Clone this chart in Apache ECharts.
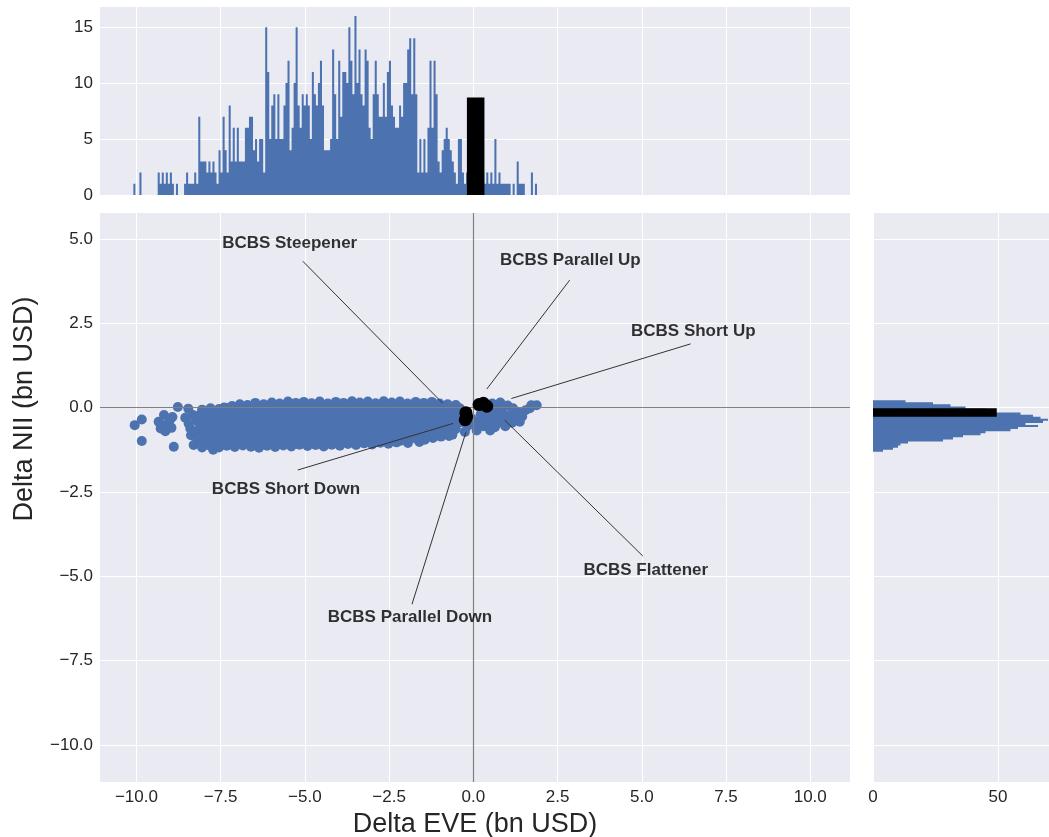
<!DOCTYPE html>
<html><head><meta charset="utf-8">
<script src="https://cdn.jsdelivr.net/npm/echarts@6/dist/echarts.min.js"></script>
<style>html,body{margin:0;padding:0;background:#fff}#c{width:1049px;height:837px}</style>
</head><body><div id="c"></div>
<script>
// ---------- data ----------
const xTicks = [-10, -7.5, -5, -2.5, 0, 2.5, 5, 7.5, 10];
const yTicks = [-10, -7.5, -5, -2.5, 0, 2.5, 5];
const topHistTicks = [0, 5, 10, 15];
const rightHistTicks = [0, 50];

const X_MIN = -11.08, X_MAX = 11.18;
const Y_MIN = -11.10, Y_MAX = 5.77;
const TOP_MAX = 16.8, RIGHT_MAX = 70.4;

// top histogram of Delta EVE (portfolio simulations)
const topHistStart = -10.09, topHistWidth = 0.0602;
const topHistCounts = [
  1,0,0,2,0,0,0,0,0,0,0,0,
  2,1,2,1,2,1,2,1,0,1,0,0,
  0,1,2,1,1,1,2,1,
  7,3,3,3,2,3,2,3,2,1,4,2,7,4,2,8,3,6,3,6,3,3,3,6,6,7,
  7,4,5,3,5,5,2,15,11,5, 8,9,5,9,5,5,8,10,12,4, 6,10,15,8,6,9,8,9,8,5,
  11,9,8,10,12,8,4,4,4,5, 13,9,5,12,7,11,11,10,15,12, 9,16,10,13,9,8,13,12,6,
  5,9,12,9,7,7,10,7,11,12, 8,7,6,6,8,7,10,10,13,14, 9,14,9,2,5,2,5,2,6,12,
  6,12,9,3,2,4,5,6,5,4, 3,2,1,5,5,2,1,
  2,1,2,1,3,1,2,1,2,
  1,2,1,2,1,5,1,2,1,1,1,1,1,0,1,0,3,1,1,1,0,0,0,2,0,1,0
];
// right histogram of Delta NII (bins from bottom to top)
const rightHistStart = -1.31, rightHistWidth = 0.0612;
const rightHistCounts = [4,8,10,11,14,28,32,36,43,45,55,58,66,61,68,70,67,64,59,48,45,37,31,24,13];

// BCBS scenario histograms: [from, to, count]
const bcbsTopBar = [-0.19, 0.33, 8.72];
const bcbsRightBar = [-0.27, -0.02, 49.5];

// simulated portfolio points [Delta EVE, Delta NII]
const portfolioPoints = [
  [-10.05,-0.52],[-9.84,-0.35],[-9.84,-0.99],[-9.34,-0.42],[-9.28,-0.62],[-9.22,-0.52],[-9.18,-0.22],[-9.14,-0.70],
  [-9.06,-0.47],[-9.00,-0.36],[-8.96,-0.60],[-8.93,-0.28],[-8.89,-1.16],[-8.77,0.02],[-8.55,-0.30],[-8.46,-0.03],
  [-8.45,-0.47],[-8.40,-0.62],[-8.38,-0.82],[-8.32,-0.22],[-8.30,-1.11],[-8.24,-0.72],[-8.20,-0.40],[-8.18,-0.95],
  [-8.05,-1.18],[-7.72,-1.25],
  [-7.40,0.00],[-7.16,0.05],[-6.93,0.10],[-6.70,0.08],[-6.47,0.14],[-6.22,0.10],[-5.98,0.15],[-5.75,0.12],[-5.50,0.18],
  [-5.27,0.14],[-5.03,0.17],[-4.80,0.13],[-4.56,0.18],[-4.32,0.12],[-4.08,0.17],[-3.85,0.14],[-3.60,0.19],[-3.37,0.15],
  [-3.13,0.18],[-2.90,0.13],[-2.66,0.19],[-2.42,0.15],[-2.18,0.18],[-1.95,0.12],[-1.71,0.17],[-1.47,0.14],[-1.23,0.17],
  [-1.00,0.12],[-0.76,0.10],[-0.52,0.08],
  [-8.05,-0.06],[-7.80,-0.02],[-7.55,-0.04],[-7.30,-0.01],[-7.05,-0.05],[-6.82,-0.02],[-6.58,-0.04],[-6.34,0.00],
  [-6.10,-0.03],[-5.86,-0.05],[-5.62,-0.01],[-5.38,-0.04],[-5.15,-0.02],[-4.91,-0.05],[-4.68,-0.01],[-4.44,-0.03],
  [-4.20,-0.05],[-3.96,-0.02],[-3.72,-0.04],[-3.49,0.00],[-3.25,-0.03],[-3.01,-0.05],[-2.78,-0.02],[-2.54,-0.04],
  [-2.30,-0.01],[-2.06,-0.03],[-1.83,-0.05],[-1.59,-0.02],[-1.35,-0.04],[-1.11,-0.01],[-0.88,-0.03],[-0.64,-0.05],[-0.40,-0.02],
  [-8.15,-0.24],[-7.92,-0.20],[-7.68,-0.23],[-7.43,-0.21],[-7.18,-0.25],[-6.94,-0.21],[-6.70,-0.23],[-6.46,-0.20],
  [-6.22,-0.24],[-5.98,-0.22],[-5.74,-0.20],[-5.50,-0.24],[-5.27,-0.21],[-5.03,-0.23],[-4.79,-0.20],[-4.55,-0.24],
  [-4.32,-0.22],[-4.08,-0.20],[-3.84,-0.23],[-3.60,-0.21],[-3.36,-0.24],[-3.13,-0.20],[-2.89,-0.23],[-2.65,-0.21],
  [-2.41,-0.24],[-2.18,-0.22],[-1.94,-0.20],[-1.70,-0.23],[-1.46,-0.21],[-1.22,-0.24],[-0.99,-0.20],[-0.75,-0.23],
  [-0.51,-0.21],[-0.30,-0.25],
  [-8.05,-0.43],[-7.80,-0.40],[-7.56,-0.42],[-7.31,-0.39],[-7.06,-0.43],[-6.82,-0.40],[-6.58,-0.42],[-6.34,-0.39],
  [-6.10,-0.43],[-5.86,-0.41],[-5.62,-0.39],[-5.38,-0.42],[-5.15,-0.40],[-4.91,-0.43],[-4.67,-0.41],[-4.43,-0.39],
  [-4.20,-0.42],[-3.96,-0.40],[-3.72,-0.43],[-3.48,-0.41],[-3.24,-0.39],[-3.01,-0.42],[-2.77,-0.40],[-2.53,-0.43],
  [-2.29,-0.41],[-2.06,-0.39],[-1.82,-0.42],[-1.58,-0.40],[-1.34,-0.43],[-1.10,-0.41],[-0.87,-0.39],[-0.63,-0.42],[-0.40,-0.44],
  [-8.12,-0.62],[-7.90,-0.59],[-7.66,-0.61],[-7.42,-0.58],[-7.18,-0.62],[-6.94,-0.59],[-6.70,-0.61],[-6.46,-0.58],
  [-6.22,-0.62],[-5.98,-0.60],[-5.74,-0.58],[-5.50,-0.61],[-5.26,-0.59],[-5.03,-0.62],[-4.79,-0.60],[-4.55,-0.58],
  [-4.31,-0.61],[-4.07,-0.59],[-3.84,-0.62],[-3.60,-0.60],[-3.36,-0.58],[-3.12,-0.61],[-2.89,-0.59],[-2.65,-0.62],
  [-2.41,-0.60],[-2.17,-0.58],[-1.94,-0.61],[-1.70,-0.59],[-1.46,-0.62],[-1.22,-0.60],[-0.98,-0.58],[-0.75,-0.61],[-0.52,-0.63],
  [-8.02,-0.81],[-7.78,-0.78],[-7.54,-0.80],[-7.30,-0.77],[-7.06,-0.81],[-6.82,-0.78],[-6.58,-0.80],[-6.34,-0.77],
  [-6.10,-0.81],[-5.86,-0.79],[-5.62,-0.77],[-5.38,-0.80],[-5.14,-0.78],[-4.91,-0.81],[-4.67,-0.79],[-4.43,-0.77],
  [-4.19,-0.80],[-3.95,-0.78],[-3.72,-0.81],[-3.48,-0.79],[-3.24,-0.77],[-3.00,-0.80],[-2.77,-0.78],[-2.53,-0.81],
  [-2.29,-0.79],[-2.05,-0.77],[-1.82,-0.80],[-1.58,-0.78],[-1.34,-0.81],[-1.10,-0.79],[-0.86,-0.77],[-0.62,-0.80],
  [-7.92,-1.00],[-7.68,-0.97],[-7.44,-0.99],[-7.20,-0.96],[-6.96,-1.00],[-6.72,-0.97],[-6.48,-0.99],[-6.24,-0.96],
  [-6.00,-1.00],[-5.76,-0.98],[-5.52,-0.96],[-5.28,-0.99],[-5.04,-0.97],[-4.80,-1.00],[-4.56,-0.98],[-4.32,-0.96],
  [-4.08,-0.99],[-3.84,-0.97],[-3.60,-1.00],[-3.36,-0.98],[-3.12,-0.96],[-2.88,-0.99],[-2.64,-0.97],[-2.40,-0.95],
  [-2.16,-0.98],[-1.92,-0.96],[-1.68,-0.93],[-1.44,-0.95],[-1.20,-0.90],[-0.96,-0.86],[-0.72,-0.84],
  [-7.80,-1.14],[-7.55,-1.18],[-7.32,-1.13],[-7.08,-1.17],[-6.84,-1.12],[-6.60,-1.16],[-6.36,-1.19],[-6.12,-1.13],
  [-5.88,-1.17],[-5.64,-1.12],[-5.40,-1.15],[-5.16,-1.10],[-4.92,-1.14],[-4.68,-1.11],[-4.44,-1.15],[-4.20,-1.10],
  [-3.96,-1.13],[-3.72,-1.08],[-3.48,-1.11],[-3.24,-1.06],[-3.00,-1.09],[-2.76,-1.04],[-2.52,-1.07],[-2.28,-1.03],
  [-1.94,-1.05],[-1.60,-1.02],
  [-0.25,-0.72],[-0.18,-0.55],[-0.05,-0.32],[0.02,-0.50],[0.10,-0.68],[0.18,-0.40],[0.22,-0.20],[0.30,-0.55],
  [0.35,-0.30],[0.40,-0.12],[0.45,-0.45],[0.50,-0.68],[0.52,-0.25],[0.56,0.12],[0.60,-0.40],[0.62,-0.05],
  [0.64,-0.58],[0.65,0.08],[0.70,-0.25],[0.76,-0.45],[0.80,0.15],[0.85,-0.12],[0.90,-0.33],[0.95,-0.55],
  [1.02,0.06],[1.08,-0.22],[1.15,-0.45],[1.18,-0.02],[1.28,-0.30],[1.32,-0.14],[1.38,-0.42],[1.45,-0.26],
  [1.55,-0.08],[1.72,0.07],[1.68,-0.02],[1.88,0.07]
];

// BCBS standard shock scenarios
const bcbsPoints = [[-0.22,-0.15],[-0.20,-0.28],[-0.24,-0.36],[0.17,0.09],[0.30,0.13],[0.40,0.04]];

// annotations (data coordinates)
const annotationNames = ['BCBS Steepener','BCBS Parallel Up','BCBS Short Up','BCBS Short Down','BCBS Parallel Down','BCBS Flattener'];
const annotationText = [[-5.45,4.88],[2.88,4.37],[6.53,2.27],[-5.56,-2.42],[-1.88,-6.21],[5.12,-4.82]];
const annotationLineFrom = [[-5.06,4.34],[2.86,3.78],[6.45,1.89],[-5.21,-1.85],[-1.82,-5.83],[5.03,-4.40]];
const annotationLineTo = [[-0.91,0.13],[0.40,0.55],[1.13,0.27],[-0.60,-0.47],[-0.22,-0.73],[0.93,-0.37]];

// ---------- chart ----------
const FONT = "'Liberation Sans', Arial, sans-serif";
const TXT = '#262626';
const BLUE = '#4C72B0';
const BG = '#EAEAF2';
function fmt(v) { return (v < 0 ? '\u2212' : '') + Math.abs(v).toFixed(1); }

const chart = echarts.init(document.getElementById('c'), null, {renderer: 'canvas', width: 1049, height: 837});

function gridDef(left, top, width, height) {
  return {left, top, width, height, show: true, backgroundColor: BG, borderWidth: 0, containLabel: false, outerBoundsMode: 'none'};
}
function axisDef(gridIndex, min, max, ticks, showLabel, formatter, margin) {
  return {
    gridIndex, type: 'value', min, max,
    axisLine: {show: false}, axisTick: {show: false, customValues: ticks},
    axisLabel: {show: showLabel, customValues: ticks, formatter, fontSize: 17, color: TXT, fontFamily: FONT, margin},
    splitLine: {show: true, lineStyle: {color: '#ffffff', width: 1}}
  };
}

const xMain = axisDef(1, X_MIN, X_MAX, xTicks, true, fmt, 7);
xMain.name = 'Delta EVE (bn USD)';
xMain.nameLocation = 'middle';
xMain.nameGap = 26;
xMain.nameTextStyle = {fontSize: 27, color: TXT, fontFamily: FONT};

const option = {
  animation: false,
  backgroundColor: '#ffffff',
  grid: [gridDef(100, 7, 750, 188), gridDef(100, 213, 750, 569), gridDef(873, 213, 176, 569)],
  xAxis: [
    axisDef(0, X_MIN, X_MAX, xTicks, false, fmt, 7),
    xMain,
    axisDef(2, 0, RIGHT_MAX, rightHistTicks, true, v => String(v), 7)
  ],
  yAxis: [
    axisDef(0, 0, TOP_MAX, topHistTicks, true, v => String(v), 7),
    axisDef(1, Y_MIN, Y_MAX, yTicks, true, fmt, 7),
    axisDef(2, Y_MIN, Y_MAX, yTicks, false, fmt, 7)
  ],
  graphic: [{
    type: 'text', x: 25, y: 409, rotation: Math.PI / 2,
    style: {text: 'Delta NII (bn USD)', font: '27px ' + FONT, fill: TXT, align: 'center', verticalAlign: 'middle'}
  }],
  series: [
    {
      type: 'custom', xAxisIndex: 0, yAxisIndex: 0, data: [0], z: 2,
      renderItem: function (params, api) {
        const pts = [api.coord([topHistStart, 0])];
        for (let i = 0; i < topHistCounts.length; i++) {
          const a = topHistStart + i * topHistWidth;
          pts.push(api.coord([a, topHistCounts[i]]));
          pts.push(api.coord([a + topHistWidth, topHistCounts[i]]));
        }
        pts.push(api.coord([topHistStart + topHistCounts.length * topHistWidth, 0]));
        return {type: 'polygon', shape: {points: pts}, style: {fill: BLUE}};
      }
    },
    {
      type: 'custom', xAxisIndex: 0, yAxisIndex: 0, data: [0], z: 3,
      renderItem: function (params, api) {
        const p0 = api.coord([bcbsTopBar[0], bcbsTopBar[2]]);
        const p1 = api.coord([bcbsTopBar[1], 0]);
        return {type: 'rect', shape: {x: p0[0], y: p0[1], width: p1[0] - p0[0], height: p1[1] - p0[1]}, style: {fill: '#000000'}};
      }
    },
    {
      type: 'custom', xAxisIndex: 2, yAxisIndex: 2, data: [0], z: 2,
      renderItem: function (params, api) {
        const pts = [api.coord([0, rightHistStart])];
        for (let i = 0; i < rightHistCounts.length; i++) {
          const a = rightHistStart + i * rightHistWidth;
          pts.push(api.coord([rightHistCounts[i], a]));
          pts.push(api.coord([rightHistCounts[i], a + rightHistWidth]));
        }
        pts.push(api.coord([0, rightHistStart + rightHistCounts.length * rightHistWidth]));
        return {type: 'polygon', shape: {points: pts}, style: {fill: BLUE}};
      }
    },
    {
      type: 'custom', xAxisIndex: 2, yAxisIndex: 2, data: [0], z: 3,
      renderItem: function (params, api) {
        const p0 = api.coord([0, bcbsRightBar[1]]);
        const p1 = api.coord([bcbsRightBar[2], bcbsRightBar[0]]);
        return {type: 'rect', shape: {x: p0[0], y: p0[1], width: p1[0] - p0[0], height: p1[1] - p0[1]}, style: {fill: '#000000'}};
      }
    },
    {
      type: 'scatter', xAxisIndex: 1, yAxisIndex: 1, data: portfolioPoints, z: 2,
      symbol: 'circle', symbolSize: 10, itemStyle: {color: BLUE, opacity: 1, borderWidth: 0},
      markLine: {
        silent: true, symbol: ['none', 'none'], label: {show: false}, z: 4,
        lineStyle: {color: '#808080', width: 1.2, type: 'solid'},
        emphasis: {disabled: true},
        data: [{xAxis: 0}, {yAxis: 0}]
      }
    },
    {
      type: 'scatter', xAxisIndex: 1, yAxisIndex: 1, data: bcbsPoints, z: 6,
      symbol: 'circle', symbolSize: 13, itemStyle: {color: '#000000', opacity: 1, borderWidth: 0}
    },
    {
      type: 'lines', coordinateSystem: 'cartesian2d', xAxisIndex: 1, yAxisIndex: 1, z: 7,
      lineStyle: {color: '#333333', width: 1, opacity: 1},
      data: annotationNames.map((n, i) => ({coords: [annotationLineFrom[i], annotationLineTo[i]]}))
    },
    {
      type: 'scatter', xAxisIndex: 1, yAxisIndex: 1, z: 8, symbolSize: 0,
      data: annotationNames.map((n, i) => ({name: n, value: annotationText[i]})),
      label: {show: true, position: 'inside', formatter: '{b}', color: '#000000', fontWeight: 'bold', fontSize: 17, fontFamily: FONT}
    }
  ]
};
chart.setOption(option);
</script>
</body></html>
